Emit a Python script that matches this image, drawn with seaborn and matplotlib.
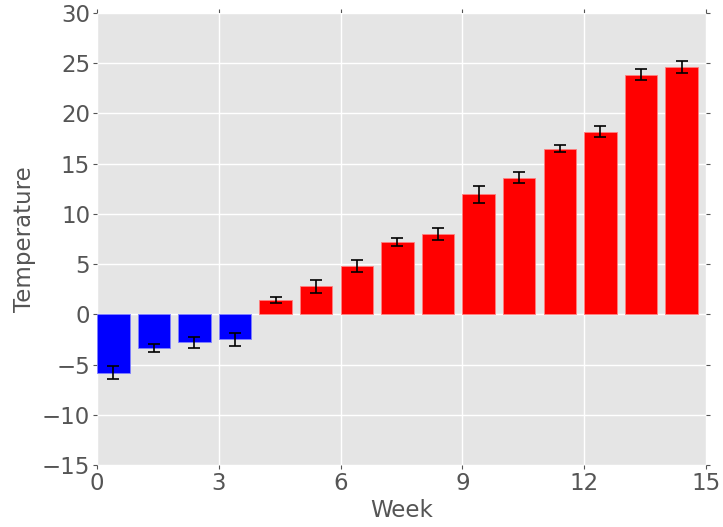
import numpy as np
import pandas as pd
import matplotlib
matplotlib.use("Agg")
import matplotlib.pyplot as plt
import seaborn as sns

weeks = [0, 1, 2, 3, 4, 5, 6, 7, 8, 9, 10, 11, 12, 13, 14]
temperature = [-5.8, -3.35, -2.8, -2.5, 1.4, 2.8, 4.8, 7.2, 8.0, 11.95, 13.6, 16.5, 18.2, 23.85, 24.6]
errors = [0.65, 0.43, 0.5, 0.63, 0.28, 0.65, 0.6, 0.4, 0.57, 0.83, 0.55, 0.38, 0.55, 0.53, 0.6]
x_ticks = [0, 3, 6, 9, 12, 15]
y_ticks = [-15, -10, -5, 0, 5, 10, 15, 20, 25, 30]

sns.set_style("darkgrid", {"axes.facecolor": "#E5E5E5", "grid.color": "white"})
plt.rcParams["font.family"] = ["DejaVu Sans"]

bar_width = 0.8
df = pd.DataFrame({"week": weeks, "temp": temperature, "err": errors})
df["pos"] = df["week"] + bar_width / 2
df["sign"] = np.where(df["temp"] < 0, "neg", "pos")

fig = plt.figure(figsize=(7.23, 5.27), dpi=100)
ax = fig.add_axes([0.1342, 0.1176, 0.8423, 0.8577])

sns.barplot(data=df, x="pos", y="temp", hue="sign", native_scale=True,
            palette={"neg": "#0000FF", "pos": "#FF0000"}, width=bar_width,
            saturation=1, dodge=False, legend=False, errorbar=None, ax=ax,
            linewidth=0.6)
for p in ax.patches:
    fc = p.get_facecolor()
    p.set_edgecolor((min(fc[0] + 0.5, 1), min(fc[1] + 0.5, 1), min(fc[2] + 0.5, 1), 1))
ax.errorbar(df["pos"], df["temp"], yerr=df["err"], fmt="none", ecolor="black",
            elinewidth=1.2, capsize=4, capthick=1.2, zorder=5)

ax.set_xlim(0, 15)
ax.set_ylim(-15, 30)
ax.set_xticks(x_ticks)
ax.set_yticks(y_ticks)
ax.set_xticklabels([str(t) for t in x_ticks])
ax.set_yticklabels([str(t).replace("-", "\u2212") for t in y_ticks])
ax.grid(True, color="white", linewidth=1.0)
ax.set_axisbelow(True)
for s in ax.spines.values():
    s.set_visible(False)
ax.tick_params(axis="both", which="both", direction="out", length=3, width=0.8,
               color="#555555", labelcolor="#555555", labelsize=16.5,
               right=True, top=True, left=True, bottom=True, pad=2)
ax.set_xlabel("Week", fontsize=16.5, color="#555555", labelpad=3)
ax.set_ylabel("Temperature", fontsize=16.5, color="#555555", labelpad=4)

fig.savefig("out.png", dpi=100)
